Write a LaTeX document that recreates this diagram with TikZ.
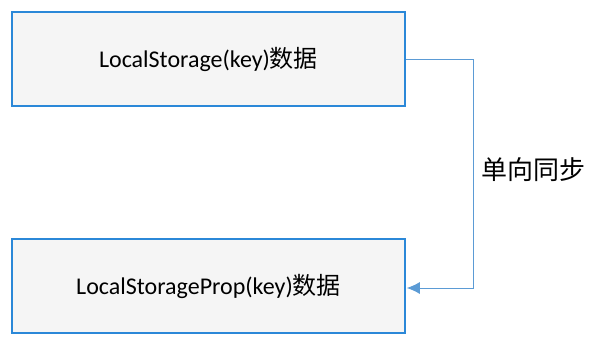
\documentclass[tikz,border=0pt]{standalone}
\usepackage{fontspec}
\setmainfont{Carlito}
\newfontfamily\cjk{Noto Sans CJK SC}
\usepackage{xcolor}
\usetikzlibrary{arrows.meta, positioning, calc}
\definecolor{boxblue}{HTML}{2B88D8}
\definecolor{boxfill}{HTML}{F5F5F5}
\definecolor{linkblue}{HTML}{5B9BD5}

\begin{document}
\begin{tikzpicture}[x=1pt, y=-1pt,
    every node/.style={font=\fontsize{24}{28}\selectfont},
    databox/.style={draw=boxblue, line width=1.6pt, fill=boxfill,
        minimum width=393pt, minimum height=94pt, inner sep=0pt}]
    \useasboundingbox (0,0) rectangle (598,346);
    \node[databox] (local) at (208.5,59) {LocalStorage(key){\cjk 数据}};
    \node[databox] (prop) at (208.5,286) {LocalStorageProp(key){\cjk 数据}};
    \coordinate (turn) at (473,0);
    \draw[linkblue, line width=1pt, -{Latex[length=13pt, width=12pt]}]
        (local.east) -| (turn |- local.east) |- ($(prop.east)+(1,2)$);
    \node[anchor=west, font=\fontsize{26}{30}\selectfont] (sync) at (478,170) {\cjk 单向同步};
\end{tikzpicture}
\end{document}
